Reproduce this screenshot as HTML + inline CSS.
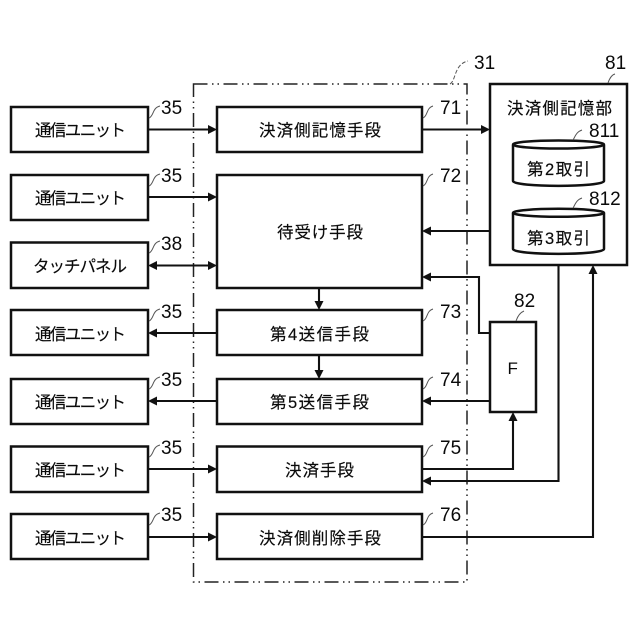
<!DOCTYPE html>
<html><head><meta charset="utf-8"><style>
html,body{margin:0;padding:0;background:#fff}
svg{display:block}
text{font-family:"Liberation Sans","Noto Sans CJK JP",sans-serif;fill:#0a0a0a}
.j{font-size:16.5px;stroke:#0a0a0a;stroke-width:.15}
.n{font-size:19px}
.b{fill:#fff;stroke:#111;stroke-width:2.5}
.l{fill:none;stroke:#111;stroke-width:2.1}
.c{fill:none;stroke:#555;stroke-width:1}
.a{fill:#111}
</style></head><body>
<svg width="640" height="640" viewBox="0 0 640 640" xmlns="http://www.w3.org/2000/svg">
<rect x="193.5" y="84" width="273.5" height="498" fill="none" stroke="#222" stroke-width="1.5" stroke-dasharray="14 4.500 1.500 4 1.500 4.500"/>

<g>
<rect class="b" x="11" y="107" width="137" height="45"/>
<rect class="b" x="11" y="175" width="137" height="45"/>
<rect class="b" x="11" y="242.500" width="137" height="45.500"/>
<rect class="b" x="11" y="310" width="137" height="45"/>
<rect class="b" x="11" y="379" width="137" height="45"/>
<rect class="b" x="11" y="446.500" width="137" height="45.500"/>
<rect class="b" x="11" y="514" width="137" height="45"/>
<rect class="b" x="217" y="107" width="205" height="45"/>
<rect class="b" x="217" y="175" width="205" height="113"/>
<rect class="b" x="217" y="310" width="205" height="45"/>
<rect class="b" x="217" y="379" width="205" height="45"/>
<rect class="b" x="217" y="446.500" width="205" height="45.500"/>
<rect class="b" x="217" y="514" width="205" height="45"/>
<rect class="b" x="490" y="84" width="137" height="181"/>
<rect class="b" x="490" y="322" width="46" height="90"/>
</g>

<g>
<path class="b" d="M513 145 V181 C513 187.500 604 187.500 604 181 V145"/>
<ellipse class="b" cx="558.500" cy="144.500" rx="45.500" ry="4"/>
<path class="b" d="M513 213 V249 C513 255.500 604 255.500 604 249 V213"/>
<ellipse class="b" cx="558.500" cy="212.800" rx="45.500" ry="4"/>
</g>

<g class="l">
<path d="M148 129.500H209"/>
<path d="M148 197H209"/>
<path d="M156 265.500H209"/>
<path d="M156 333H217"/>
<path d="M156 401H217"/>
<path d="M148 469H209"/>
<path d="M148 537H209"/>
<path d="M422 129.500H482"/>
<path d="M430 231H490"/>
<path d="M430 277H479V333H490"/>
<path d="M430 401H490"/>
<path d="M422 469H513V420"/>
<path d="M430 481H558.500V265"/>
<path d="M422 537H593V273"/>
<path d="M319 288V302"/>
<path d="M319 355V371"/>
</g>

<g class="a">
<path d="M217 129.500l-9-4.500v9z"/>
<path d="M217 197l-9-4.500v9z"/>
<path d="M217 265.500l-9-4.500v9z"/>
<path d="M148 265.500l9-4.500v9z"/>
<path d="M148 333l9-4.500v9z"/>
<path d="M148 401l9-4.500v9z"/>
<path d="M217 469l-9-4.500v9z"/>
<path d="M217 537l-9-4.500v9z"/>
<path d="M490 129.500l-9-4.500v9z"/>
<path d="M422 231l9-4.500v9z"/>
<path d="M422 277l9-4.500v9z"/>
<path d="M422 401l9-4.500v9z"/>
<path d="M422 481l9-4.500v9z"/>
<path d="M513 412l-4.500 9h9z"/>
<path d="M593 265l-4.500 9h9z"/>
<path d="M319 310l-4.500-9h9z"/>
<path d="M319 379l-4.500-9h9z"/>
</g>

<g class="c">
<path d="M149 118c5-2 3-10 11-12"/>
<path d="M149 186c5-2 3-10 11-12"/>
<path d="M149 253c5-2 3-10 11-12"/>
<path d="M149 321c5-2 3-10 11-12"/>
<path d="M149 389c5-2 3-10 11-12"/>
<path d="M149 457c5-2 3-10 11-12"/>
<path d="M149 525c5-2 3-10 11-12"/>
<path d="M423 118c5-2 3-10 10-12"/>
<path d="M423 186c5-2 3-10 10-12"/>
<path d="M423 321c5-2 3-10 10-12"/>
<path d="M423 389c5-2 3-10 10-12"/>
<path d="M423 457c5-2 3-10 10-12"/>
<path d="M423 525c5-2 3-10 10-12"/>
<path d="M450 84c6-3 4-20 18-23" stroke-dasharray="4 2"/>
<path d="M608 83c1-3 3-8 7-9"/>
<path d="M573 140c2-3 3-8 9-10"/>
<path d="M573 208c2-3 3-8 9-10"/>
<path d="M516 321c1-3 3-8 8-10"/>
</g>

<g class="j">
<text x="35" y="136" textLength="91" lengthAdjust="spacing">通信ユニット</text>
<text x="35" y="204" textLength="91" lengthAdjust="spacing">通信ユニット</text>
<text x="33" y="272" textLength="94" lengthAdjust="spacing">タッチパネル</text>
<text x="35" y="340" textLength="91" lengthAdjust="spacing">通信ユニット</text>
<text x="35" y="408" textLength="91" lengthAdjust="spacing">通信ユニット</text>
<text x="35" y="476" textLength="91" lengthAdjust="spacing">通信ユニット</text>
<text x="35" y="544" textLength="91" lengthAdjust="spacing">通信ユニット</text>
<text x="259" y="136" textLength="122" lengthAdjust="spacing">決済側記憶手段</text>
<text x="277" y="238" textLength="86" lengthAdjust="spacing">待受け手段</text>
<text x="270" y="340" textLength="99" lengthAdjust="spacing">第4送信手段</text>
<text x="270" y="408" textLength="99" lengthAdjust="spacing">第5送信手段</text>
<text x="285" y="476" textLength="69" lengthAdjust="spacing">決済手段</text>
<text x="259" y="544" textLength="122" lengthAdjust="spacing">決済側削除手段</text>
<text x="507" y="114" textLength="105" lengthAdjust="spacing">決済側記憶部</text>
<text x="527" y="175" textLength="63" lengthAdjust="spacing">第2取引</text>
<text x="527" y="244" textLength="63" lengthAdjust="spacing">第3取引</text>
</g>
<text x="507.500" y="374" style="font-size:17px">F</text>

<g class="n">
<text x="161" y="114">35</text>
<text x="161" y="182">35</text>
<text x="161" y="250">38</text>
<text x="161" y="318">35</text>
<text x="161" y="386">35</text>
<text x="161" y="454">35</text>
<text x="161" y="521">35</text>
<text x="440" y="114">71</text>
<text x="440" y="182">72</text>
<text x="440" y="318">73</text>
<text x="440" y="386">74</text>
<text x="440" y="454">75</text>
<text x="440" y="521">76</text>
<text x="474" y="69">31</text>
<text x="605" y="69">81</text>
<text x="589" y="137">811</text>
<text x="589" y="205">812</text>
<text x="514" y="307">82</text>
</g>
</svg>
</body></html>
